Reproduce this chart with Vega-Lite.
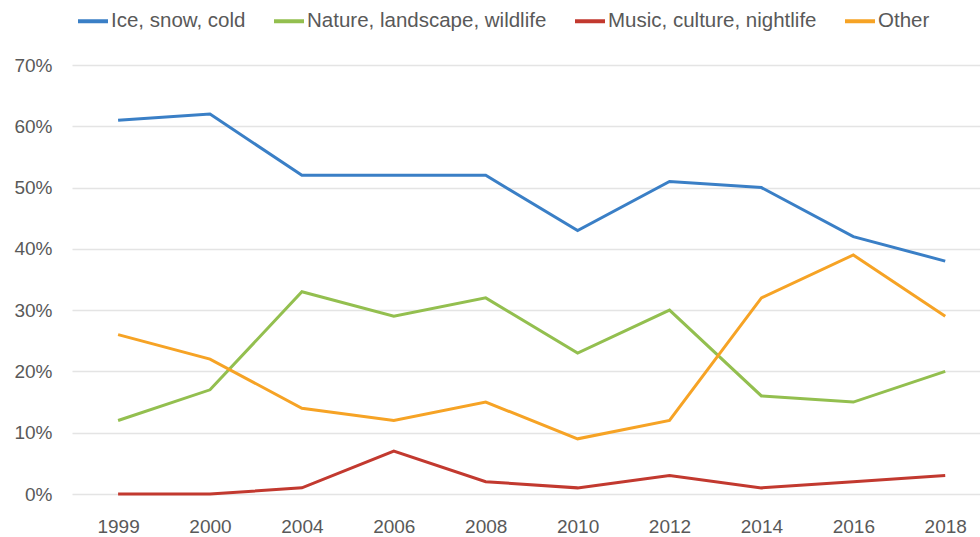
{
  "$schema": "https://vega.github.io/schema/vega-lite/v6.json",
  "width": 908,
  "height": 429,
  "autosize": {"type": "none"},
  "padding": {"left": 72, "top": 65, "right": 0, "bottom": 43},
  "background": "white",
  "config": {
    "view": {"stroke": null},
    "font": "Liberation Sans",
    "axis": {"labelFont": "Liberation Sans", "labelColor": "#595959", "labelFontSize": 19}
  },
  "data": {
    "values": [
      {"year": "1999", "theme": "Ice, snow, cold", "share": 0.61},
      {"year": "2000", "theme": "Ice, snow, cold", "share": 0.62},
      {"year": "2004", "theme": "Ice, snow, cold", "share": 0.52},
      {"year": "2006", "theme": "Ice, snow, cold", "share": 0.52},
      {"year": "2008", "theme": "Ice, snow, cold", "share": 0.52},
      {"year": "2010", "theme": "Ice, snow, cold", "share": 0.43},
      {"year": "2012", "theme": "Ice, snow, cold", "share": 0.51},
      {"year": "2014", "theme": "Ice, snow, cold", "share": 0.50},
      {"year": "2016", "theme": "Ice, snow, cold", "share": 0.42},
      {"year": "2018", "theme": "Ice, snow, cold", "share": 0.38},
      {"year": "1999", "theme": "Nature, landscape, wildlife", "share": 0.12},
      {"year": "2000", "theme": "Nature, landscape, wildlife", "share": 0.17},
      {"year": "2004", "theme": "Nature, landscape, wildlife", "share": 0.33},
      {"year": "2006", "theme": "Nature, landscape, wildlife", "share": 0.29},
      {"year": "2008", "theme": "Nature, landscape, wildlife", "share": 0.32},
      {"year": "2010", "theme": "Nature, landscape, wildlife", "share": 0.23},
      {"year": "2012", "theme": "Nature, landscape, wildlife", "share": 0.30},
      {"year": "2014", "theme": "Nature, landscape, wildlife", "share": 0.16},
      {"year": "2016", "theme": "Nature, landscape, wildlife", "share": 0.15},
      {"year": "2018", "theme": "Nature, landscape, wildlife", "share": 0.20},
      {"year": "1999", "theme": "Music, culture, nightlife", "share": 0.00},
      {"year": "2000", "theme": "Music, culture, nightlife", "share": 0.00},
      {"year": "2004", "theme": "Music, culture, nightlife", "share": 0.01},
      {"year": "2006", "theme": "Music, culture, nightlife", "share": 0.07},
      {"year": "2008", "theme": "Music, culture, nightlife", "share": 0.02},
      {"year": "2010", "theme": "Music, culture, nightlife", "share": 0.01},
      {"year": "2012", "theme": "Music, culture, nightlife", "share": 0.03},
      {"year": "2014", "theme": "Music, culture, nightlife", "share": 0.01},
      {"year": "2016", "theme": "Music, culture, nightlife", "share": 0.02},
      {"year": "2018", "theme": "Music, culture, nightlife", "share": 0.03},
      {"year": "1999", "theme": "Other", "share": 0.26},
      {"year": "2000", "theme": "Other", "share": 0.22},
      {"year": "2004", "theme": "Other", "share": 0.14},
      {"year": "2006", "theme": "Other", "share": 0.12},
      {"year": "2008", "theme": "Other", "share": 0.15},
      {"year": "2010", "theme": "Other", "share": 0.09},
      {"year": "2012", "theme": "Other", "share": 0.12},
      {"year": "2014", "theme": "Other", "share": 0.32},
      {"year": "2016", "theme": "Other", "share": 0.39},
      {"year": "2018", "theme": "Other", "share": 0.29}
    ]
  },
  "mark": {"type": "line", "strokeWidth": 3, "strokeJoin": "miter"},
  "encoding": {
    "x": {
      "field": "year",
      "type": "ordinal",
      "scale": {"type": "point", "padding": 0.44, "align": 0.57},
      "axis": {"title": null, "labelAngle": 0, "ticks": false, "domain": false, "labelPadding": 23}
    },
    "y": {
      "field": "share",
      "type": "quantitative",
      "scale": {"domain": [0, 0.7], "nice": false},
      "axis": {
        "title": null,
        "format": ".0%",
        "values": [0, 0.1, 0.2, 0.3, 0.4, 0.5, 0.6, 0.7],
        "ticks": false,
        "domain": false,
        "gridColor": "#e4e4e4",
        "gridWidth": 1.5,
        "labelPadding": 20
      }
    },
    "color": {
      "field": "theme",
      "type": "nominal",
      "sort": ["Ice, snow, cold", "Nature, landscape, wildlife", "Music, culture, nightlife", "Other"],
      "scale": {
        "domain": ["Ice, snow, cold", "Nature, landscape, wildlife", "Music, culture, nightlife", "Other"],
        "range": ["#3A7FC6", "#93BF4F", "#C2392F", "#F6A325"]
      },
      "legend": {
        "title": null,
        "orient": "none",
        "direction": "horizontal",
        "legendX": 4,
        "legendY": -61,
        "symbolType": "stroke",
        "symbolStrokeWidth": 4,
        "symbolSize": 900,
        "labelFontSize": 20.5,
        "labelColor": "#595959",
        "labelOffset": 1,
        "labelLimit": 0,
        "columnPadding": 20
      }
    }
  }
}
